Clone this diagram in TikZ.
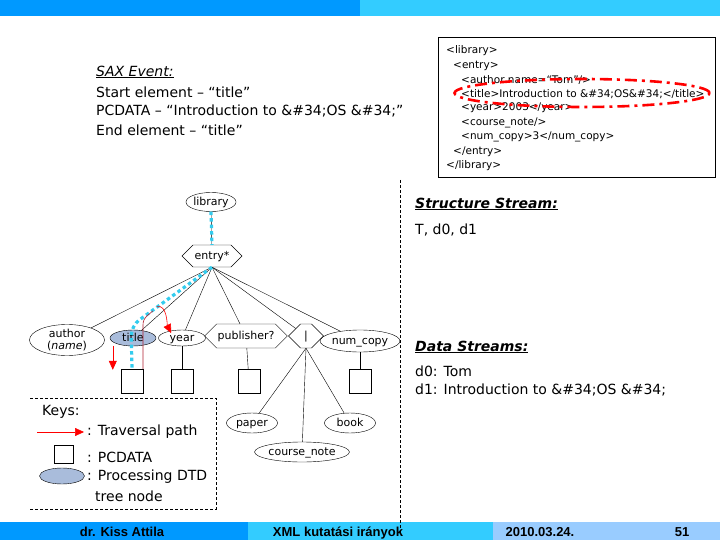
\documentclass[tikz,border=0pt]{standalone}
\usepackage{fontspec}
\setmainfont{DejaVu Sans}
\newfontfamily\footfont{Liberation Sans}
\usetikzlibrary{arrows.meta,shapes.geometric,shapes.symbols,calc}
\definecolor{barDark}{HTML}{0099FF}
\definecolor{barLight}{HTML}{33CCFF}
\definecolor{barPale}{HTML}{99CCFF}
\definecolor{pathCyan}{HTML}{33CCEE}
\definecolor{nodeBlue}{HTML}{A9BCDB}
\definecolor{pathRed}{HTML}{B02030}

\begin{document}
\begin{tikzpicture}[x=1pt,y=-1pt,
    elem/.style={ellipse,draw,thin,inner sep=0pt,minimum height=16pt,
                 text height=9pt,text depth=1.5pt,
                 font=\fontsize{11}{12}\selectfont},
    hexa/.style={signal,signal to=west and east,draw,thin,inner sep=1pt,
                 minimum height=24pt,text height=9pt,text depth=1.5pt,
                 font=\fontsize{11}{12}\selectfont},
    pcbox/.style={rectangle,draw,thin,minimum width=22pt,minimum height=24pt,
                  inner sep=0pt},
    dtdpath/.style={pathCyan,line width=3.2pt,dash pattern=on 3.5pt off 3pt},
    trav/.style={pathRed,semithick},
    travtip/.style={red,semithick,-{Triangle[length=9pt,width=8pt]}},
    txt/.style={anchor=west,inner sep=0pt,font=\fontsize{14}{16}\selectfont},
    xml/.style={anchor=west,inner sep=0pt,font=\fontsize{10.5}{12}\selectfont},
    foot/.style={anchor=base,inner sep=0pt,font=\footfont\fontsize{13}{14}\selectfont\bfseries}
  ]
  \useasboundingbox (0,0) rectangle (720,540);
  % Bars
  \fill[barDark]  (0,0) rectangle (360,16);
  \fill[barLight] (360,0) rectangle (720,16);
  \fill[barDark]  (0,522) rectangle (248,540);
  \fill[barLight] (248,522) rectangle (493,540);
  \fill[barPale]  (493,522) rectangle (720,540);
  \node[foot] (author0) at (122,536) {dr. Kiss Attila};
  \node[foot] (topic)   at (338,536) {XML kutatási irányok};
  \node[foot] (date)    at (540,536) {2010.03.24.};
  \node[foot] (page)    at (682,536) {51};
  % Divider
  \draw[densely dashed,thin] (400,180) -- (400,535);
  % SAX event
  \node[txt] (sax)   at (96,72)  {\underline{\textit{SAX Event:}}};
  \node[txt] (sax1)  at (96,92)  {Start element -- “title”};
  \node[txt] (sax2)  at (96,111) {PCDATA -- “Introduction to \&\#34;OS \&\#34;”};
  \node[txt] (sax3)  at (96,130) {End element -- “title”};
  % XML document
  \draw[thin] (438,37) rectangle (715,177);
  \node[xml] (x1) at (446,51)  {<library>};
  \node[xml] (x2) at (453,66)  {<entry>};
  \node[xml] (x3) at (461,80)  {<author name=“Tom”/>};
  \node[xml] (x4) at (461,94)  {<title>Introduction to \&\#34;OS\&\#34;</title>};
  \node[xml] (x5) at (461,108) {<year>2003</year>};
  \node[xml] (x6) at (461,123) {<course\_note/>};
  \node[xml] (x7) at (461,137) {<num\_copy>3</num\_copy>};
  \node[xml] (x8) at (453,152) {</entry>};
  \node[xml] (x9) at (446,166) {</library>};
  \node[ellipse,draw=red,line width=2.6pt,dash pattern=on 12pt off 5pt on 3pt off 5pt,
        minimum width=255pt,minimum height=28pt] (mark) at (582,93) {};
  % DTD tree
  \node[elem,minimum width=45pt,minimum height=19pt] (lib) at (211,202) {library};
  \node[hexa,minimum width=60pt,minimum height=22pt] (entry) at (212,256) {entry*};
  \node[ellipse,draw,thin,inner sep=0pt,align=center,font=\fontsize{11}{12}\selectfont,
        minimum width=75pt,minimum height=31pt] (author) at (67,340)
       {author\\(\textit{name})};
  \node[elem,fill=nodeBlue,minimum width=46pt] (title) at (133,338) {title};
  \node[elem,minimum width=47pt] (year) at (182,338) {year};
  \node[hexa,minimum width=72pt] (publisher) at (246,336) {publisher?};
  \node[hexa,minimum width=35pt] (choice) at (306,336) {|};
  \node[elem,minimum width=69pt,minimum height=22pt] (numcopy) at (360,341) {num\_copy};
  \node[elem,minimum width=51pt,minimum height=20pt] (paper) at (252,423) {paper};
  \node[elem,minimum width=94pt,minimum height=20pt] (coursenote) at (302,452) {course\_note};
  \node[elem,minimum width=51pt,minimum height=20pt] (book) at (350,423) {book};
  % PCDATA boxes
  \node[pcbox] (pc1) at (132,381) {};
  \node[pcbox] (pc2) at (182,381) {};
  \node[pcbox] (pc3) at (249,381) {};
  \node[pcbox] (pc4) at (360,381) {};
  % Edges
  \draw[thin] (lib) -- (entry);
  \foreach \c in {author,title,year,publisher,choice,numcopy}
    \draw[thin] (entry.south) -- (\c);
  \foreach \c in {paper,coursenote,book}
    \draw[thin] (choice.south) -- (\c);
  \draw[thin] (year) -- (pc2);
  \draw[thin] (publisher) -- (pc3);
  \draw[thin] (numcopy) -- (pc4);
  % Traversal
  \draw[dtdpath] (lib.south) -- (entry.north);
  \draw[dtdpath,rounded corners=10pt] (entry.south) -- (131,326) -- (pc1.north);
  \draw[trav] ($(pc1.north)+(11,0)$) -- ++(0,-44) .. controls +(0,-8) and +(-4,4) .. ++(10,-14);
  \draw[travtip] ($(pc1.north)+(25,-62)$) .. controls +(10,-3) and +(-4,-8) .. ($(year.north west)+(6,1)$);
  \draw[travtip] ($(pc1.north west)+(-8,-23)$) -- ($(pc1.north west)+(-8,1)$);
  % Streams
  \node[txt] (sstream) at (415,204) {\underline{\textbf{\textit{Structure Stream:}}}};
  \node[txt] (sstr1)   at (415,230) {T, d0, d1};
  \node[txt] (dstream) at (415,347) {\underline{\textbf{\textit{Data Streams:}}}};
  \node[txt] (dstr1)   at (415,371) {d0: Tom};
  \node[txt] (dstr2)   at (415,390) {d1: Introduction to \&\#34;OS \&\#34;};
  % Keys
  \draw[densely dashed,thin] (30,398) -- (216,398) -- (216,509) -- (30,509);
  \node[txt] (keys) at (42,412) {Keys:};
  \coordinate (k0) at (37,432);
  \coordinate (k1) at (84,432);
  \draw[travtip] (k0) -- (k1);
  \node[txt] (kpath) at (87,432) {: Traversal path};
  \node[rectangle,draw,thin,minimum width=19pt,minimum height=18pt] (kbox) at (64,454) {};
  \node[txt] (kpc) at (87,457) {: PCDATA};
  \node[ellipse,draw,thin,fill=nodeBlue,minimum width=45pt,minimum height=16pt] (kell) at (62,476) {};
  \node[txt] (kdtd)  at (87,477) {: Processing DTD};
  \node[txt] (kdtd2) at (95,496) {tree node};
\end{tikzpicture}
\end{document}
